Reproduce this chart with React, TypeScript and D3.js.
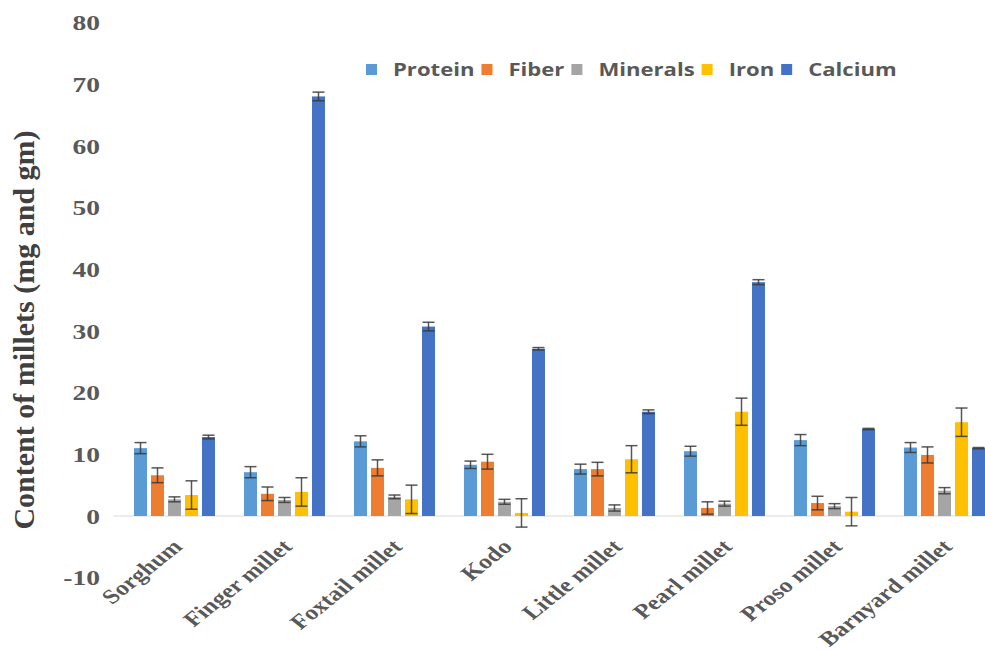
import React, { useEffect, useRef } from "react";
import * as d3 from "d3";

const categories = [
  "Sorghum",
  "Finger millet",
  "Foxtail millet",
  "Kodo",
  "Little millet",
  "Pearl millet",
  "Proso millet",
  "Barnyard millet",
];
const seriesNames = ["Protein", "Fiber", "Minerals", "Iron", "Calcium"];
const seriesColors = ["#5B9BD5", "#ED7D31", "#A5A5A5", "#FFC000", "#4472C4"];

const protein = [11.0, 7.1, 12.1, 8.3, 7.6, 10.5, 12.3, 11.1];
const proteinErr = [0.9, 0.9, 0.9, 0.6, 0.8, 0.8, 0.9, 0.8];
const fiber = [6.6, 3.6, 7.8, 8.8, 7.6, 1.3, 2.1, 9.9];
const fiberErr = [1.2, 1.1, 1.3, 1.2, 1.1, 1.0, 1.1, 1.3];
const minerals = [2.7, 2.6, 3.1, 2.3, 1.3, 2.0, 1.6, 4.1];
const mineralsErr = [0.4, 0.4, 0.3, 0.4, 0.5, 0.4, 0.4, 0.5];
const iron = [3.4, 3.9, 2.7, 0.5, 9.2, 16.9, 0.7, 15.2];
const ironErr = [2.3, 2.3, 2.3, 2.3, 2.2, 2.2, 2.3, 2.3];
const calcium = [12.8, 68.0, 30.7, 27.1, 16.9, 37.9, 14.1, 11.0];
const calciumErr = [0.3, 0.7, 0.7, 0.2, 0.3, 0.4, 0.1, 0.1];

const yTicks = [-10, 0, 10, 20, 30, 40, 50, 60, 70, 80];
const yTitle = "Content of millets (mg and gm)";

const seriesValues = [protein, fiber, minerals, iron, calcium];
const seriesErrors = [proteinErr, fiberErr, mineralsErr, ironErr, calciumErr];

const SERIF = "'Liberation Serif', 'Times New Roman', serif";
const SANS = "'Open Sans', 'Noto Sans', sans-serif";
const STRETCH = 1.25;
const LEGEND_STRETCH = 1.3;

export default function App() {
  const ref = useRef<SVGSVGElement>(null);

  useEffect(() => {
    const svg = d3.select(ref.current);
    svg.selectAll("*").remove();

    const x0 = d3.scaleBand<string>().domain(categories).range([119.5, 999.5]);
    const x1 = d3
      .scaleBand<string>()
      .domain(seriesNames)
      .range([0, x0.bandwidth()])
      .paddingInner(0.235)
      .paddingOuter(0.853);
    const y = d3.scaleLinear().domain([-10, 80]).range([577.7, 22.4]);

    svg.append("rect").attr("width", 985).attr("height", 651).attr("fill", "#fff");

    // zero line
    svg
      .append("line")
      .attr("x1", x0.range()[0] - 6)
      .attr("x2", 985)
      .attr("y1", y(0))
      .attr("y2", y(0))
      .attr("stroke", "#D9D9D9")
      .attr("stroke-width", 1.2);

    // bars
    const rows = categories.flatMap((c, i) =>
      seriesNames.map((s, j) => ({
        c,
        s,
        v: seriesValues[j][i],
        e: seriesErrors[j][i],
        color: seriesColors[j],
      }))
    );
    const bw = x1.bandwidth();
    svg
      .append("g")
      .selectAll("rect")
      .data(rows)
      .join("rect")
      .attr("x", (d) => (x0(d.c) as number) + (x1(d.s) as number))
      .attr("y", (d) => y(Math.max(d.v, 0)))
      .attr("width", bw)
      .attr("height", (d) => Math.abs(y(d.v) - y(0)))
      .attr("fill", (d) => d.color);

    // error bars
    const eg = svg
      .append("g")
      .attr("stroke", "#3a3a3a")
      .attr("stroke-width", 1.5)
      .attr("stroke-opacity", 0.85);
    const capW = 12;
    rows.forEach((d) => {
      const cx = (x0(d.c) as number) + (x1(d.s) as number) + bw / 2;
      const yt = y(d.v + d.e);
      const yb = y(d.v - d.e);
      eg.append("line").attr("x1", cx).attr("x2", cx).attr("y1", yt).attr("y2", yb);
      eg.append("line").attr("x1", cx - capW / 2).attr("x2", cx + capW / 2).attr("y1", yt).attr("y2", yt);
      eg.append("line").attr("x1", cx - capW / 2).attr("x2", cx + capW / 2).attr("y1", yb).attr("y2", yb);
    });

    // y tick labels
    svg
      .append("g")
      .selectAll("text")
      .data(yTicks)
      .join("text")
      .attr("transform", (t) => `translate(100,${y(t)}) scale(${STRETCH},1)`)
      .attr("text-anchor", "end")
      .attr("dy", "0.35em")
      .attr("font-family", SERIF)
      .attr("font-weight", "bold")
      .attr("font-size", 22)
      .attr("fill", "#595959")
      .text((t) => String(t));

    // y title
    svg
      .append("text")
      .attr("transform", `translate(34,330) rotate(-90)`)
      .attr("text-anchor", "middle")
      .attr("font-family", SERIF)
      .attr("font-weight", "bold")
      .attr("font-size", 30)
      .attr("fill", "#404040")
      .text(yTitle);

    // x labels
    svg
      .append("g")
      .selectAll("text")
      .data(categories)
      .join("text")
      .attr(
        "transform",
        (c) => `translate(${(x0(c) as number) + x0.bandwidth() / 2 + 9},548) scale(${STRETCH},1) rotate(-45)`
      )
      .attr("text-anchor", "end")
      .attr("font-family", SERIF)
      .attr("font-weight", "bold")
      .attr("font-size", 20.5)
      .attr("fill", "#595959")
      .text((c) => c);

    // legend
    const lg = svg.append("g");
    let lx = 366;
    const ly = 64;
    seriesNames.forEach((s, j) => {
      lg.append("rect").attr("x", lx).attr("y", ly).attr("width", 11).attr("height", 11).attr("fill", seriesColors[j]);
      const t = lg
        .append("text")
        .attr("transform", `translate(${lx + 27},${ly + 11.5}) scale(${LEGEND_STRETCH},1)`)
        .attr("font-family", SANS)
        .attr("font-weight", 700)
        .attr("font-size", 17)
        .attr("fill", "#595959")
        .text(s);
      const w = (t.node() as SVGTextElement).getComputedTextLength() * LEGEND_STRETCH;
      lx += 27 + w + 7;
    });
  }, []);

  return (
    <svg
      ref={ref}
      width={985}
      height={651}
      style={{ position: "absolute", left: 0, top: 0, display: "block" }}
    />
  );
}
